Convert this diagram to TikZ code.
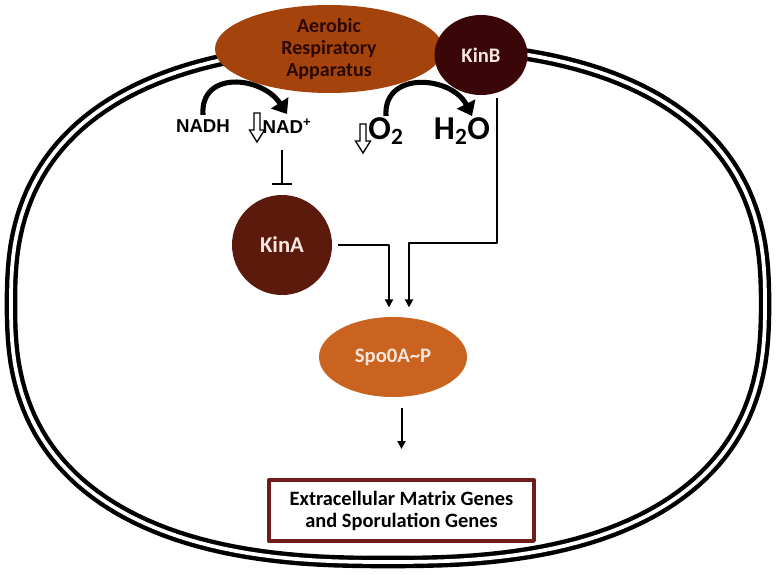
\documentclass[tikz,border=0pt]{standalone}
\usepackage{fontspec}
\setmainfont{Carlito}
\newfontfamily\arialfont{Liberation Sans}
\usetikzlibrary{arrows.meta,calc,shapes.geometric}

\definecolor{aerobic}{HTML}{A4440C}
\definecolor{kinbcol}{HTML}{3A0607}
\definecolor{kinacol}{HTML}{5C1A0D}
\definecolor{spocol}{HTML}{C9631F}
\definecolor{boxcol}{HTML}{6E1C1C}
\definecolor{lighttext}{HTML}{F7E6DE}
\definecolor{darktext}{HTML}{2B0800}

\def\px{0.75pt}

\tikzset{
  blob/.style={ellipse, fill=#1, draw=none, inner sep=-10pt, text=lighttext,
    font=\bfseries\fontsize{15.5}{18}\selectfont, align=center},
  cell/.style={line width=3.3pt, double, double distance=2.8pt},
  curved/.style={line width=3.8pt, -{Triangle[length=10pt,width=15pt]}},
  link/.style={line width=1.5pt, -{Triangle[length=6pt,width=6pt]}},
  chem/.style={font=\bfseries\fontsize{25}{28}\selectfont, inner sep=1pt}
}

\begin{document}
\begin{tikzpicture}[x=\px, y=-\px, line join=round]
\useasboundingbox (0,0) rectangle (777,574);

% cell membrane
\draw[cell] plot[domain=1:361, samples=181]
  ({388+377*sign(cos(\x))*abs(cos(\x))^0.8}, {304+258*sign(sin(\x))*abs(sin(\x))^0.8}) -- cycle;

% membrane complexes
\node[blob=aerobic, text=darktext, minimum width=228*\px, minimum height=88*\px,
  font=\bfseries\fontsize{15}{16.5}\selectfont] (resp) at (329,49) {Aerobic\\Respiratory\\Apparatus};
\node[blob=kinbcol, minimum width=93*\px, minimum height=80*\px] (kinb) at (481,55) {KinB};

% metabolites
\node[font=\arialfont\bfseries\fontsize{14}{15}\selectfont] (nadh) at (203,126) {NADH};
\node[font=\arialfont\bfseries\fontsize{14}{15}\selectfont] (nad) at (287,126) {NAD\textsuperscript{+}};
\node[chem] (otwo) at (386,131) {O\textsubscript{2}};
\node[chem] (water) at (462,131) {H\textsubscript{2}O};

\draw[curved] (nadh.north) .. controls (200,70) and (262,76) .. (nad.north);
\draw[curved] (otwo.north) .. controls (383,70) and (452,76) .. ($(water.north)+(10,0)$);

% decrease arrows
\foreach \hx/\hy in {257/113,363/124}
  \draw[line width=1pt, line join=miter, fill=white] (\hx-3,\hy) -- (\hx+3,\hy) -- (\hx+3,\hy+17)
    -- (\hx+7.5,\hy+17) -- (\hx,\hy+29) -- (\hx-7.5,\hy+17) -- (\hx-3,\hy+17) -- cycle;

% kinases and regulator
\node[blob=kinacol, circle, minimum size=100*\px, font=\bfseries\fontsize{17}{19}\selectfont] (kina) at (282,245) {KinA};
\node[blob=spocol, minimum width=148*\px, minimum height=80*\px] (spo) at (393,357) {Spo0A\textasciitilde P};
\node[draw=boxcol, line width=2.5pt, fill=white, minimum width=265*\px, minimum height=61*\px,
  align=center, font=\bfseries\fontsize{15.3}{16.5}\selectfont] (genes) at (401.5,510.5)
  {Extracellular Matrix Genes\\and Sporulation Genes};

\coordinate (bdrop) at (497,243);
\draw[line width=1.5pt, -{Bar[width=15pt]}, shorten <=9pt, shorten >=7pt] (kina |- nad.south) -- (kina.north);
\draw[link, shorten <=4pt, shorten >=7pt] (kina.east) -| ($(spo.north)+(-4,0)$);
\draw[link, shorten <=2pt, shorten >=7pt] (kinb.south -| bdrop) -- (bdrop) -| ($(spo.north)+(16,0)$);
\draw[link, shorten <=8pt, shorten >=22pt] (genes.north |- spo.south) -- (genes.north);
\end{tikzpicture}
\end{document}
